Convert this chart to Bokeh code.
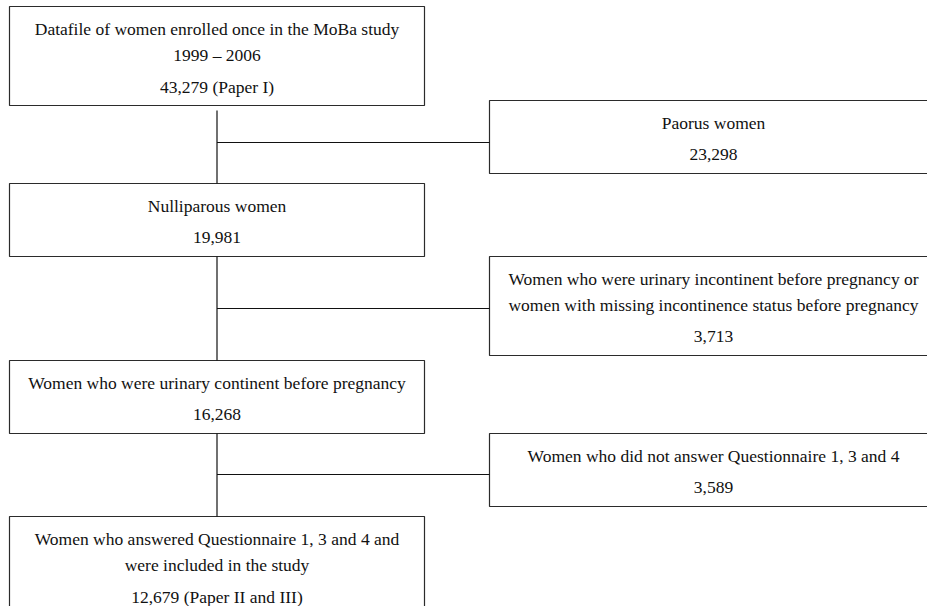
from bokeh.plotting import figure
from bokeh.models import ColumnDataSource, Range1d
from bokeh.core.properties import value
from bokeh.embed import file_html
from bokeh.resources import INLINE

# ---- data ----
main_labels = [
    ["Datafile of women enrolled once in the MoBa study", "1999 \u2013 2006"],
    ["Nulliparous women"],
    ["Women who were urinary continent before pregnancy"],
    ["Women who answered Questionnaire 1, 3 and 4 and", "were included in the study"],
]
main_n = [43279, 19981, 16268, 12679]
main_notes = ["(Paper I)", "", "", "(Paper II and III)"]

excl_labels = [
    ["Paorus women"],
    ["Women who were urinary incontinent before pregnancy or",
     "women with missing incontinence status before pregnancy"],
    ["Women who did not answer Questionnaire 1, 3 and 4"],
]
excl_n = [23298, 3713, 3589]

# ---- layout (picture pixel coordinates) ----
W, H = 927, 606
main_left, main_right = 9, 424
main_tops = [6, 183, 360, 516]
main_bottoms = [105, 256, 433, 640]
excl_left, excl_right = 489, 937
excl_tops = [100, 256, 433]
excl_bottoms = [173, 355, 506]
branch_y = [142, 308, 474]
first_off, wrap_gap, count_gap = 22, 26, 32
FONT = "Liberation Serif"
FSIZE = "17.5px"
LINE_COLOR = "#2b2b2b"

p = figure(width=W, height=H, output_backend="svg", toolbar_location=None,
           x_range=Range1d(0, W), y_range=Range1d(H, 0),
           min_border=0, tools="")
p.axis.visible = False
p.grid.visible = False
p.outline_line_color = None
p.background_fill_color = "white"
p.border_fill_color = "white"

def fmt(n, note=""):
    s = f"{n:,}"
    return f"{s} {note}" if note else s

tx, ty, tt = [], [], []

def add_box_text(cx, top, lines, count_text):
    y = top + first_off
    for i, ln in enumerate(lines):
        if i > 0:
            y += wrap_gap
        tx.append(cx); ty.append(y); tt.append(ln)
    y += count_gap
    tx.append(cx); ty.append(y); tt.append(count_text)

mcx = (main_left + main_right) / 2
ecx = (excl_left + excl_right) / 2

p.quad(left=[main_left] * 4, right=[main_right] * 4, top=main_tops, bottom=main_bottoms,
       fill_color=None, line_color=LINE_COLOR, line_width=1.2)
p.quad(left=[excl_left] * 3, right=[excl_right] * 3, top=excl_tops, bottom=excl_bottoms,
       fill_color=None, line_color=LINE_COLOR, line_width=1.2)

for i in range(4):
    add_box_text(mcx, main_tops[i], main_labels[i], fmt(main_n[i], main_notes[i]))
for i in range(3):
    add_box_text(ecx, excl_tops[i], excl_labels[i], fmt(excl_n[i]))

# connectors
xs, ys = [], []
for i in range(3):
    start = main_bottoms[i] + (5 if i == 0 else 0)
    xs.append([mcx, mcx]); ys.append([start, main_tops[i + 1]])
    xs.append([mcx, excl_left]); ys.append([branch_y[i], branch_y[i]])
p.multi_line(xs, ys, line_color="#111111", line_width=1.2)

src = ColumnDataSource(dict(x=tx, y=ty, t=tt))
p.text(x="x", y="y", text="t", source=src, text_align="center", text_baseline="middle",
       text_font=value(FONT), text_font_size=FSIZE, text_color="#111111")

open("out.html", "w").write(file_html(p, INLINE))
